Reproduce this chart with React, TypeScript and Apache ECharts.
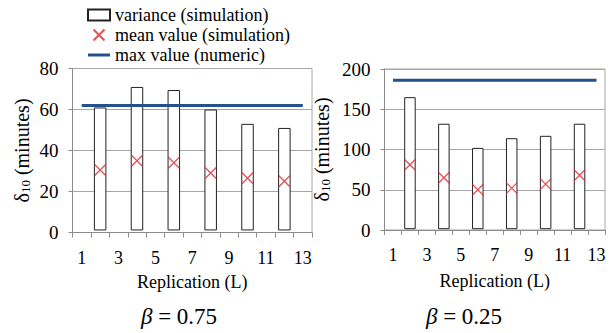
import React, { useEffect, useRef } from "react";
import * as echarts from "echarts";

const categories = ["1", "2", "3", "4", "5", "6", "7", "8", "9", "10", "11", "12", "13"];
const replications = [2, 4, 6, 8, 10, 12];

// beta = 0.75
const varLowL = [1, 1, 1, 1, 1, 1];
const varHighL = [61, 71, 69.5, 60, 53, 51];
const meanL = [30.5, 35, 34, 29, 26.5, 25];
const maxL = 62;

// beta = 0.25
const varLowR = [1, 1, 1, 1, 1, 1];
const varHighR = [165, 132, 102, 114, 117, 132];
const meanR = [81, 65, 50, 52, 57, 68];
const maxR = 186;

const FONT = "Liberation Serif";
const GRID_COLOR = "#a6a6a6";
const RED = "#e0262a";
const BLUE = "#23508e";

const toCat = (vals: number[]) =>
  categories.map((c) => {
    const i = replications.indexOf(Number(c));
    return i >= 0 ? vals[i] : "-";
  });

const X_PATH = "path://M0,0L10,10M10,0L0,10";

function App() {
  const ref = useRef<HTMLDivElement>(null);

  useEffect(() => {
    if (!ref.current) return;
    const chart = echarts.init(ref.current, null, { renderer: "svg" });

    const makeX = (idx: number, nameGap: number) => ({
      type: "category",
      gridIndex: idx,
      data: categories,
      boundaryGap: true,
      name: "Replication (L)",
      nameLocation: "middle",
      nameGap,
      nameTextStyle: { fontFamily: FONT, fontSize: 18, color: "#000" },
      axisLine: { lineStyle: { color: "#8c8c8c" } },
      axisTick: { show: true, interval: 0, length: 5, lineStyle: { color: "#8c8c8c" } },
      axisLabel: { interval: 1, margin: 16, fontFamily: FONT, fontSize: 18, color: "#000" },
      splitLine: { show: false },
    });

    const makeY = (idx: number, max: number, interval: number, nameGap: number) => ({
      type: "value",
      gridIndex: idx,
      min: 0,
      max,
      interval,
      name: "{d|δ}{s|10}{d| (minutes)}",
      nameLocation: "middle",
      nameGap,
      nameRotate: 90,
      nameTextStyle: {
        fontFamily: FONT,
        rich: {
          d: { fontFamily: FONT, fontSize: 20, color: "#000" },
          s: { fontFamily: FONT, fontSize: 13, color: "#000", verticalAlign: "bottom", padding: [6, 0, 0, 0] },
        },
      },
      axisLine: { show: true, lineStyle: { color: "#8c8c8c" } },
      axisTick: { show: true, length: 4, lineStyle: { color: "#8c8c8c" } },
      axisLabel: { margin: 14, fontFamily: FONT, fontSize: 19, color: "#000" },
      splitLine: { show: true, lineStyle: { color: GRID_COLOR, width: 1 } },
    });

    const makeSeries = (
      idx: number,
      low: number[],
      high: number[],
      mean: number[],
      max: number,
      barWidth: number
    ) => [
      {
        type: "bar",
        name: "base" + idx,
        xAxisIndex: idx,
        yAxisIndex: idx,
        stack: "v" + idx,
        barWidth,
        data: toCat(low),
        itemStyle: { color: "transparent" },
        silent: true,
      },
      {
        type: "bar",
        name: "variance (simulation)",
        xAxisIndex: idx,
        yAxisIndex: idx,
        stack: "v" + idx,
        barWidth,
        data: toCat(high.map((h, i) => h - low[i])),
        itemStyle: { color: "#ffffff", borderColor: "#222", borderWidth: 1 },
      },
      {
        type: "scatter",
        name: "mean value (simulation)",
        xAxisIndex: idx,
        yAxisIndex: idx,
        symbol: X_PATH,
        symbolSize: 11,
        data: toCat(mean),
        itemStyle: { color: "none", borderColor: RED, borderWidth: 1.3 },
        z: 5,
      },
      {
        type: "line",
        name: "max value (numeric)",
        xAxisIndex: idx,
        yAxisIndex: idx,
        showSymbol: false,
        symbol: "none",
        data: categories.map(() => max),
        lineStyle: { color: BLUE, width: 3 },
        itemStyle: { color: BLUE },
        z: 4,
      },
    ];

    chart.setOption({
      animation: false,
      backgroundColor: "#fff",
      textStyle: { fontFamily: FONT },
      legend: {
        orient: "vertical",
        left: 87,
        top: 5,
        padding: 0,
        itemGap: 0,
        itemWidth: 22,
        itemHeight: 11,
        textStyle: { fontFamily: FONT, fontSize: 18, color: "#000", lineHeight: 20 },
        data: [
          { name: "variance (simulation)", icon: "rect" },
          { name: "mean value (simulation)" },
          { name: "max value (numeric)", icon: "path://M0,0L22,0L22,3L0,3Z", itemStyle: { color: BLUE } },
        ],
      },
      grid: [
        { left: 72.5, top: 68.5, width: 239.5, height: 164, show: true, borderColor: GRID_COLOR, borderWidth: 1, containLabel: false },
        { left: 384.5, top: 69, width: 220.5, height: 161, show: true, borderColor: GRID_COLOR, borderWidth: 1, containLabel: false },
      ],
      xAxis: [makeX(0, 40), makeX(1, 42)],
      yAxis: [makeY(0, 80, 20, 41), makeY(1, 200, 50, 53)],
      series: [
        ...makeSeries(0, varLowL, varHighL, meanL, maxL, 12.5),
        ...makeSeries(1, varLowR, varHighR, meanR, maxR, 11.5),
      ],
      graphic: [
        {
          type: "text",
          x: 179,
          y: 316,
          style: {
            text: "{b|β} = 0.75",
            align: "center",
            verticalAlign: "middle",
            fontFamily: FONT,
            fontSize: 23,
            fill: "#000",
            rich: { b: { fontFamily: FONT, fontSize: 23, fontStyle: "italic", fill: "#000" } },
          },
        },
        {
          type: "text",
          x: 464,
          y: 316,
          style: {
            text: "{b|β} = 0.25",
            align: "center",
            verticalAlign: "middle",
            fontFamily: FONT,
            fontSize: 23,
            fill: "#000",
            rich: { b: { fontFamily: FONT, fontSize: 23, fontStyle: "italic", fill: "#000" } },
          },
        },
      ],
    });

    return () => chart.dispose();
  }, []);

  return <div ref={ref} style={{ width: 612, height: 333, position: "absolute", left: 0, top: 0 }} />;
}

export default App;
